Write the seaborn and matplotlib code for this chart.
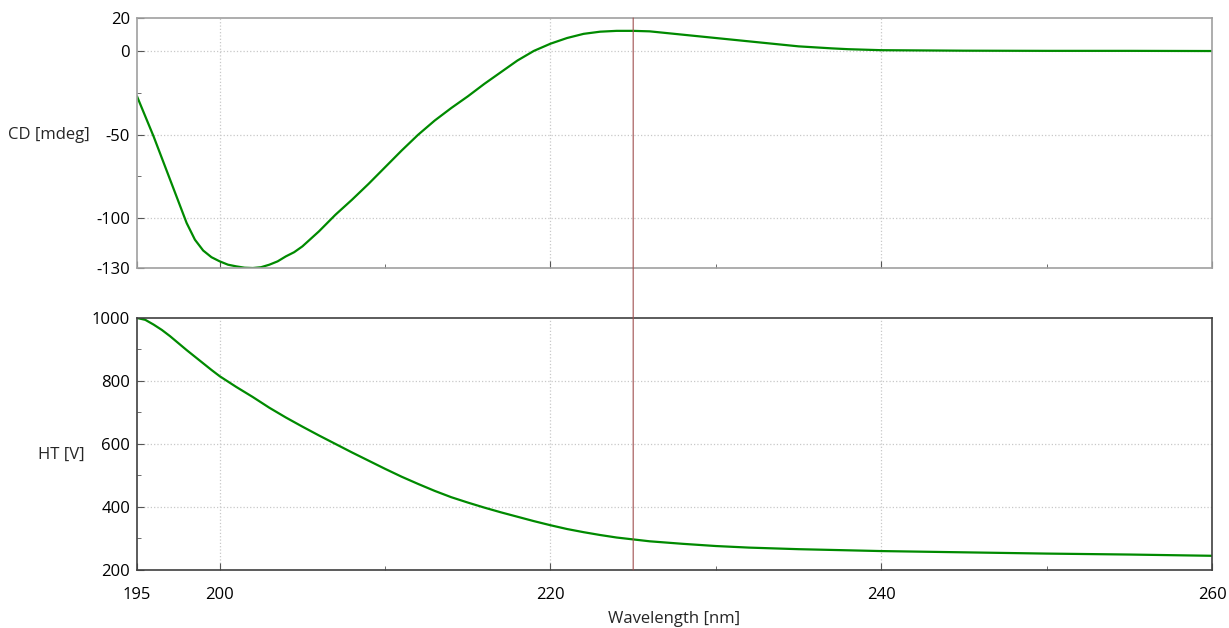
import numpy as np
import pandas as pd
import seaborn as sns
import matplotlib.pyplot as plt
from matplotlib.ticker import FixedLocator
from matplotlib.patches import ConnectionPatch

# wavelength [nm]
wl_cd = [195, 195.5, 196, 196.5, 197, 197.5, 198, 198.5, 199, 199.5, 200, 200.5, 201,
         201.5, 202, 202.5, 203, 203.5, 204, 204.5, 205, 206, 207, 208, 209,
         210, 211, 212, 213, 214, 215, 216, 217, 218, 219, 220, 221, 222, 223, 224,
         225, 226, 227, 228, 229, 230, 231, 232, 233, 234, 235, 236, 237, 238, 239,
         240, 245, 250, 255, 260]
cd = [-27, -39, -51, -64, -77, -90, -103, -113, -119.5, -123.5, -126, -128, -129,
      -129.8, -130, -129.5, -128, -126, -123, -120.5, -117, -108, -98, -89, -79.5,
      -69.5, -59.5, -50, -41.5, -34, -27, -19.5, -12.5, -5.5, 0.3, 4.6, 8, 10.5, 11.8, 12.3,
      12.3, 12, 11, 10, 9, 8, 7, 6, 5, 4, 3, 2.4, 1.8, 1.3, 1,
      0.7, 0.4, 0.3, 0.3, 0.2]

wl_ht = [195, 195.5, 196, 196.5, 197, 197.5, 198, 198.5, 199, 199.5, 200, 201, 202,
         203, 204, 205, 206, 207, 208, 209,
         210, 211, 212, 213, 214, 215, 216, 217, 218, 219, 220, 221, 222, 223, 224,
         225, 226, 228, 230, 232, 235, 240, 245, 250, 255, 260]
ht = [1000, 994, 979, 962, 942, 920, 898, 877, 856, 835, 815, 781, 749,
      715, 684, 655, 627, 600, 573, 547,
      521, 496, 473, 451, 431, 414, 398, 383, 369, 355, 342, 330, 320, 311, 303,
      297, 291, 283, 276, 271, 266, 260, 256, 252, 249, 245]

cursor_nm = 225

cd_df = pd.DataFrame({'Wavelength': wl_cd, 'CD': cd})
ht_df = pd.DataFrame({'Wavelength': wl_ht, 'HT': ht})

sns.set_style('white')
plt.rcParams['font.family'] = ['Open Sans', 'DejaVu Sans']
plt.rcParams['font.size'] = 12
plt.rcParams['axes.unicode_minus'] = False

fig = plt.figure(figsize=(12.29, 6.28), dpi=100)
ax1 = fig.add_axes([0.1115, 0.5732, 0.8747, 0.3981])
ax2 = fig.add_axes([0.1115, 0.0924, 0.8747, 0.4013])

green = '#008a00'
sns.lineplot(data=cd_df, x='Wavelength', y='CD', ax=ax1, color=green, linewidth=1.6)
sns.lineplot(data=ht_df, x='Wavelength', y='HT', ax=ax2, color=green, linewidth=1.6)

for ax in (ax1, ax2):
    ax.set_xlim(195, 260)
    ax.xaxis.set_major_locator(FixedLocator([195, 200, 220, 240, 260]))
    ax.xaxis.set_minor_locator(FixedLocator([210, 230, 250]))
    ax.tick_params(which='both', direction='in', colors='#555555', labelcolor='black',
                   labelsize=12)
    ax.tick_params(which='major', length=5)
    ax.tick_params(which='minor', length=3)
    ax.tick_params(axis='y', which='both', left=True, pad=5)
    ax.tick_params(axis='x', which='both', bottom=True)
    ax.set_xlabel('')

ax1.set_ylim(-130, 20)
ax1.yaxis.set_major_locator(FixedLocator([-130, -100, -50, 0, 20]))
ax1.yaxis.set_minor_locator(FixedLocator([-75, -25]))
ax1.tick_params(axis='x', labelbottom=False)
for s in ax1.spines.values():
    s.set_color('#a0a0a0')
    s.set_linewidth(1.2)

ax2.set_ylim(200, 1000)
ax2.yaxis.set_major_locator(FixedLocator([200, 400, 600, 800, 1000]))
ax2.yaxis.set_minor_locator(FixedLocator([300, 500, 700, 900]))
ax2.tick_params(axis='x', pad=12)
for s in ax2.spines.values():
    s.set_color('#404040')
    s.set_linewidth(1.2)

# dotted grid at inner major ticks
for x in [200, 220, 240]:
    ax1.axvline(x, color='#c8c8c8', linestyle=':', linewidth=0.9, zorder=0)
    ax2.axvline(x, color='#c8c8c8', linestyle=':', linewidth=0.9, zorder=0)
for y in [-100, -50, 0]:
    ax1.axhline(y, color='#c8c8c8', linestyle=':', linewidth=0.9, zorder=0)
for y in [400, 600, 800]:
    ax2.axhline(y, color='#c8c8c8', linestyle=':', linewidth=0.9, zorder=0)

ax1.set_ylabel('CD [mdeg]', rotation=0, ha='center', va='center', fontsize=12)
ax1.yaxis.set_label_coords(-0.082, 0.532)
ax2.set_ylabel('HT [V]', rotation=0, ha='center', va='center', fontsize=12)
ax2.yaxis.set_label_coords(-0.070, 0.456)
ax2.set_xlabel('Wavelength [nm]', fontsize=12, labelpad=6)

# cursor line through both panels
con = ConnectionPatch(xyA=(cursor_nm, 20), coordsA=ax1.transData,
                      xyB=(cursor_nm, 200), coordsB=ax2.transData,
                      color='#a05050', linewidth=0.8, zorder=5)
fig.add_artist(con)

fig.savefig('out.png', dpi=100)
